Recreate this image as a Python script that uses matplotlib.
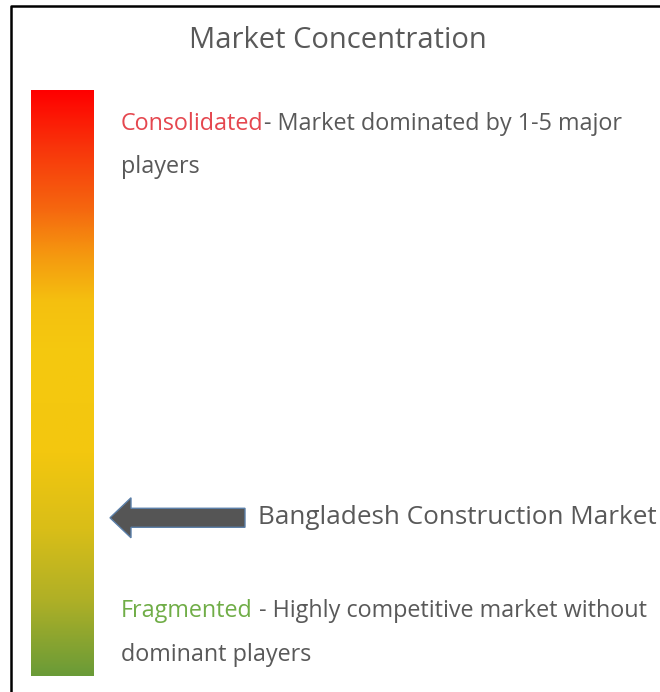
import numpy as np
import matplotlib
matplotlib.use("Agg")
import matplotlib.pyplot as plt
from matplotlib.colors import LinearSegmentedColormap
from matplotlib.patches import FancyArrow

plt.rcParams['font.family'] = ['Open Sans', 'DejaVu Sans']

# gradient stops of the concentration scale, top (consolidated) to bottom (fragmented)
stop_pos = [0.0, 0.10, 0.20, 0.28, 0.36, 0.45, 0.62, 0.75, 0.87, 1.0]
stop_colors = ['#FF0000', '#F8360B', '#F5660F', '#F5980F', '#F4C010',
               '#F5C90F', '#F3C70F', '#D9BE18', '#B0B026', '#6A9B38']

title = "Market Concentration"
top_label = "Consolidated"
top_text = "- Market dominated by 1-5 major"
top_text2 = "players"
bottom_label = "Fragmented"
bottom_text = " - Highly competitive market without"
bottom_text2 = "dominant players"
market_name = "Bangladesh Construction Market"
market_level = 0.73  # position on the scale, 0 = top, 1 = bottom

W, H = 660, 692
fig = plt.figure(figsize=(W / 100, H / 100), dpi=100)
ax = fig.add_axes([0, 0, 1, 1])
ax.set_xlim(0, W)
ax.set_ylim(H, 0)
ax.axis('off')

# frame
ax.plot([11, 11, W], [H, 6, 6], color='black', lw=1.8, solid_capstyle='butt')

# gradient bar
bar_x0, bar_x1, bar_y0, bar_y1 = 31, 94, 90, 676
cmap = LinearSegmentedColormap.from_list('conc', list(zip(stop_pos, stop_colors)))
grad = np.linspace(0, 1, 256).reshape(-1, 1)
ax.imshow(grad, cmap=cmap, aspect='auto', extent=(bar_x0, bar_x1, bar_y1, bar_y0),
          interpolation='bilinear')

gray = '#595959'
fs = 16.8

ax.text(338, 41, title, ha='center', va='center', fontsize=21, color=gray)

t = ax.text(121, 124, top_label, ha='left', va='center', fontsize=fs, color='#E5474F')
ax.annotate(top_text, xy=(1, 0.5), xycoords=t, ha='left', va='center',
            fontsize=fs, color=gray)
ax.text(121, 167, top_text2, ha='left', va='center', fontsize=fs, color=gray)

t = ax.text(121, 611, bottom_label, ha='left', va='center', fontsize=fs, color='#70AD47')
ax.annotate(bottom_text, xy=(1, 0.5), xycoords=t, ha='left', va='center',
            fontsize=fs, color=gray)
ax.text(121, 655, bottom_text2, ha='left', va='center', fontsize=fs, color=gray)

# arrow pointing at the market's position on the scale
arrow_y = bar_y0 + market_level * (bar_y1 - bar_y0)
ax.add_patch(FancyArrow(245, arrow_y, -135, 0, width=19, head_width=40, head_length=21,
                        length_includes_head=True, fc='#555555', ec='#5B7FA8', lw=1))
ax.text(258, arrow_y, market_name, ha='left', va='center', fontsize=18.8, color=gray)

fig.savefig('out.png', dpi=100)
